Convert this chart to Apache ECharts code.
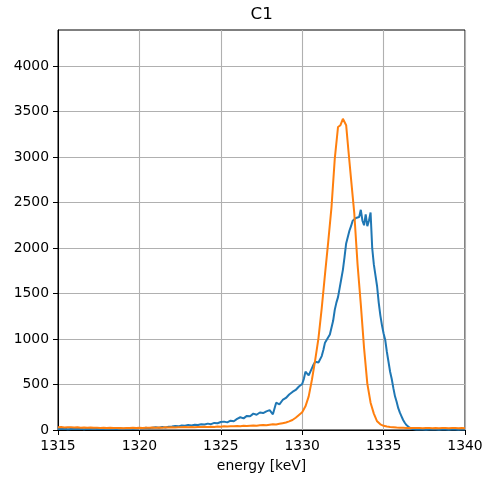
<!DOCTYPE html>
<html>
<head>
<meta charset="utf-8">
<script src="https://cdn.jsdelivr.net/npm/echarts@6/dist/echarts.min.js"></script>
<style>html,body{margin:0;padding:0;background:#fff}#c{width:486px;height:482px}</style>
</head>
<body>
<div id="c"></div>
<script>
const titleText = 'C1';
const xLabel = 'energy [keV]';
const xTicks = [1315, 1320, 1325, 1330, 1335, 1340];
const yTicks = [0, 500, 1000, 1500, 2000, 2500, 3000, 3500, 4000];

const blueEnergy = [
1315.0,1315.2,1315.4,1315.6,1315.8,1316.0,1316.2,1316.4,1316.6,1316.8,
1317.0,1317.2,1317.4,1317.6,1317.8,1318.0,1318.2,1318.4,1318.6,1318.8,
1319.0,1319.2,1319.4,1319.6,1319.8,1320.0,1320.2,1320.4,1320.6,1320.8,
1321.0,1321.2,1321.4,1321.6,1321.8,1322.0,1322.2,1322.4,1322.6,1322.8,
1323.0,1323.2,1323.4,1323.6,1323.8,1324.0,1324.2,1324.4,1324.6,1324.8,
1325.0,1325.2,1325.4,1325.6,1325.8,1326.0,1326.2,1326.4,1326.6,1326.8,
1327.0,1327.2,1327.4,1327.6,1327.8,1328.0,1328.2,1328.4,1328.6,1328.8,
1329.0,1329.2,1329.4,1329.6,1329.8,
1330.0,1330.1,1330.2,1330.3,1330.4,1330.5,1330.6,1330.7,1330.8,1330.9,
1331.0,1331.1,1331.2,1331.3,1331.4,1331.5,1331.6,1331.7,1331.8,1331.9,
1332.0,1332.1,1332.2,1332.3,1332.4,1332.5,1332.6,1332.7,1332.8,1332.9,
1333.0,1333.1,1333.2,1333.3,1333.4,1333.5,1333.6,1333.7,1333.8,1333.9,
1334.0,1334.1,1334.2,1334.3,1334.4,1334.5,1334.6,1334.7,1334.8,1334.9,
1335.0,1335.1,1335.2,1335.3,1335.4,1335.5,1335.6,1335.7,1335.8,1335.9,
1336.0,1336.1,1336.2,1336.3,1336.4,1336.5,1336.6,1336.7,1336.8,1336.9,
1337.0,1337.2,1337.4,1337.6,1337.8,1338.0,1338.2,1338.4,1338.6,1338.8,
1339.0,1339.2,1339.4,1339.6,1339.8,1340.0
];
const blueCounts = [
12,10,14,8,12,15,10,13,9,14,
12,16,10,14,12,17,13,15,11,18,
14,16,20,15,19,22,18,24,20,26,
30,25,33,28,36,38,45,40,50,46,
55,50,58,55,64,60,70,64,78,74,
88,92,84,102,96,122,140,128,155,150,
180,168,192,186,205,218,172,300,282,330,
352,390,418,440,478,
505,560,640,620,600,612,680,720,750,760,
742,752,812,880,960,990,1010,1050,1068,1200,
1320,1400,1460,1560,1660,1760,1900,2050,2030,2190,
2240,2300,2320,2330,2320,2340,2420,2300,2250,2370,
2240,2300,2390,2000,1820,1700,1580,1400,1260,1150,
1060,990,860,750,640,560,460,370,310,240,
190,150,110,80,55,40,25,14,10,8,
6,5,6,4,5,7,5,4,6,5,
4,5,6,4,5,5
];

const orangeEnergy = [
1315.0,1315.2,1315.4,1315.6,1315.8,1316.0,1316.2,1316.4,1316.6,1316.8,
1317.0,1317.2,1317.4,1317.6,1317.8,1318.0,1318.2,1318.4,1318.6,1318.8,
1319.0,1319.2,1319.4,1319.6,1319.8,1320.0,1320.2,1320.4,1320.6,1320.8,
1321.0,1321.2,1321.4,1321.6,1321.8,1322.0,1322.2,1322.4,1322.6,1322.8,
1323.0,1323.2,1323.4,1323.6,1323.8,1324.0,1324.2,1324.4,1324.6,1324.8,
1325.0,1325.2,1325.4,1325.6,1325.8,1326.0,1326.2,1326.4,1326.6,1326.8,
1327.0,1327.2,1327.4,1327.6,1327.8,1328.0,1328.2,1328.4,1328.6,1328.8,
1329.0,1329.2,1329.4,1329.6,1329.8,1330.0,1330.2,1330.4,1330.6,1330.8,
1331.0,1331.2,1331.4,1331.6,1331.8,1332.0,1332.2,1332.35,1332.5,1332.7,
1332.85,1333.0,1333.2,1333.4,1333.6,1333.8,1334.0,1334.2,1334.4,1334.6,
1334.8,1335.0,1335.2,1335.4,1335.6,1335.8,1336.0,1336.2,1336.4,1336.6,
1336.8,1337.0,1337.2,1337.4,1337.6,1337.8,1338.0,1338.2,1338.4,1338.6,
1338.8,1339.0,1339.2,1339.4,1339.6,1339.8,1340.0
];
const orangeCounts = [
30,32,28,31,29,27,30,26,28,25,
27,24,26,23,25,22,24,21,23,22,
20,23,21,24,22,25,23,26,24,27,
25,28,26,29,27,30,28,31,29,32,
30,33,31,34,32,35,33,36,34,38,
36,40,38,42,40,44,42,46,45,48,
50,48,52,55,53,58,62,60,68,75,
82,95,110,135,165,195,260,370,555,770,
1010,1340,1710,2070,2450,2980,3330,3350,3420,3350,
3050,2760,2380,1820,1380,900,510,300,180,95,
62,46,38,33,30,27,25,24,23,22,
22,21,22,20,21,22,20,21,20,22,
21,20,21,22,20,21,20
];

const chart = echarts.init(document.getElementById('c'), null, {renderer: 'canvas'});
const font = 'DejaVu Sans';
const pairs = (xs, ys) => xs.map((x, i) => [x, ys[i]]);

chart.setOption({
  animation: false,
  backgroundColor: '#ffffff',
  graphic: [{
    type: 'text', left: 261.5 - 11, top: 6,
    style: {text: titleText, fontFamily: font, fontSize: 16.7, fill: '#000'}
  }],
  grid: {left: 58, right: 21, top: 30, bottom: 52, show: true, borderColor: '#000', borderWidth: 1, containLabel: false},
  xAxis: {
    type: 'value', min: xTicks[0], max: xTicks[xTicks.length - 1], interval: 5,
    name: xLabel, nameLocation: 'middle', nameGap: 29,
    nameTextStyle: {fontFamily: font, fontSize: 13.9, color: '#000'},
    axisLine: {show: true, onZero: false, lineStyle: {color: '#000', width: 1}},
    axisTick: {show: true, inside: false, length: 5, customValues: xTicks, lineStyle: {color: '#000', width: 1}},
    axisLabel: {margin: 9, fontFamily: font, fontSize: 13.9, color: '#000', customValues: xTicks,
      formatter: v => xTicks.includes(v) ? String(v) : ''},
    splitLine: {show: true, lineStyle: {color: '#b0b0b0', width: 1.1}}
  },
  yAxis: {
    type: 'value', min: 0, max: 4396, interval: 500,
    axisLine: {show: true, lineStyle: {color: '#000', width: 1}},
    axisTick: {show: true, inside: false, length: 5, customValues: yTicks, lineStyle: {color: '#000', width: 1}},
    axisLabel: {margin: 9, fontFamily: font, fontSize: 13.9, color: '#000', customValues: yTicks,
      formatter: v => yTicks.includes(v) ? String(v) : ''},
    splitLine: {show: true, lineStyle: {color: '#b0b0b0', width: 1.1}}
  },
  series: [
    {type: 'line', data: pairs(blueEnergy, blueCounts), showSymbol: false, symbol: 'none',
     lineStyle: {color: '#1f77b4', width: 2}, itemStyle: {color: '#1f77b4'}},
    {type: 'line', data: pairs(orangeEnergy, orangeCounts), showSymbol: false, symbol: 'none',
     lineStyle: {color: '#ff7f0e', width: 2}, itemStyle: {color: '#ff7f0e'}}
  ]
});
</script>
</body>
</html>
